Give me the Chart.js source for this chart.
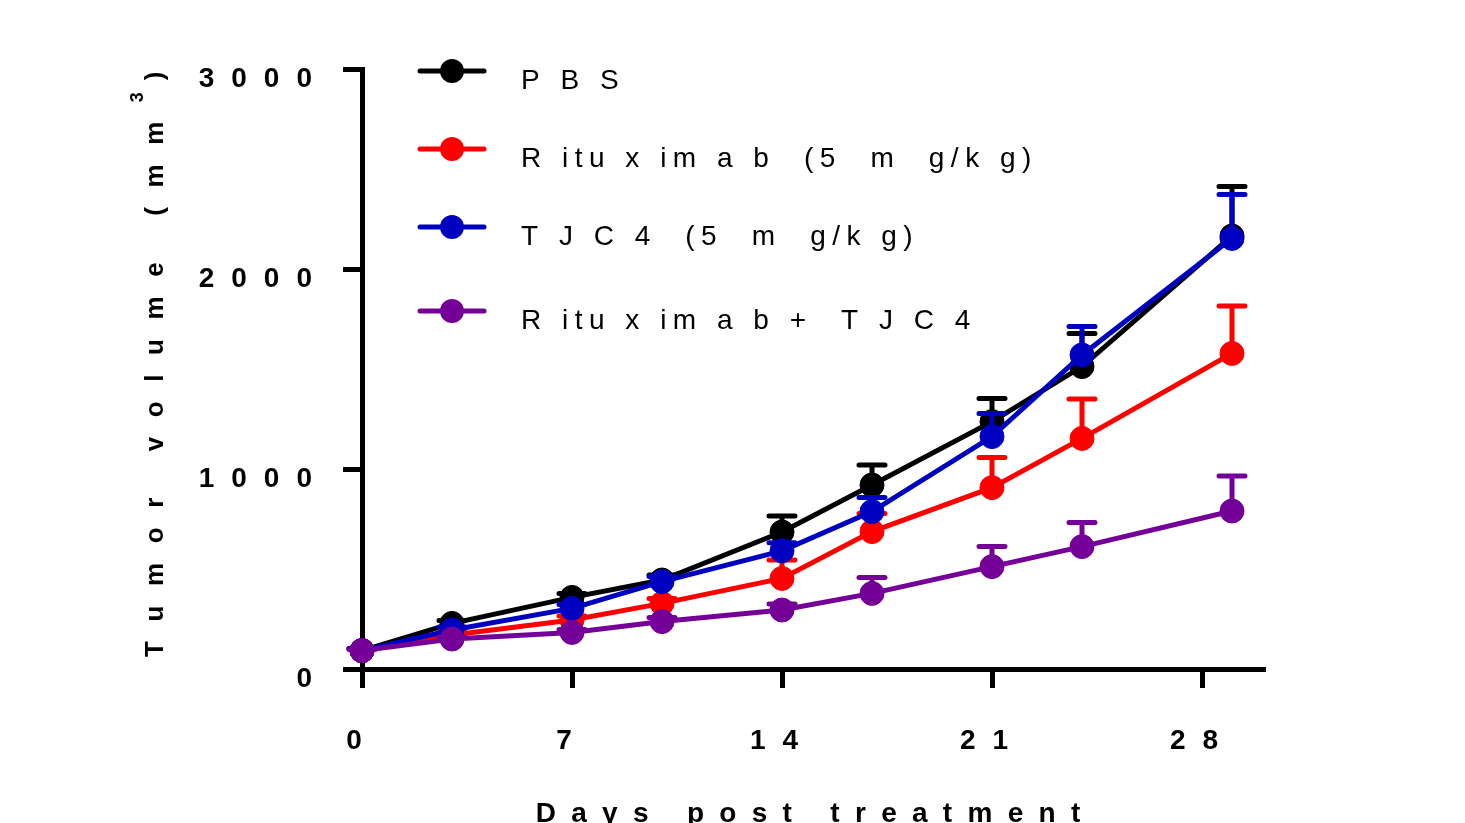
<!DOCTYPE html>
<html>
<head>
<meta charset="utf-8">
<script src="https://cdn.jsdelivr.net/npm/chart.js@4"></script>
<style>
  html, body { margin: 0; padding: 0; background: #fff; }
  canvas { display: block; }
</style>
</head>
<body>
<canvas id="tumor-chart" width="1465" height="823"></canvas>
<script>
// data
const days = [0, 3, 7, 10, 14, 17, 21, 24, 29];
const xTicks = [0, 7, 14, 21, 28];
const yTicks = [0, 1000, 2000, 3000];

const pbsMean = [92, 228, 358, 445, 685, 920, 1237, 1512, 2165];
const pbsErr = [10, 15, 20, 25, 80, 100, 116, 166, 247];
const rituxMean = [92, 170, 245, 328, 453, 687, 907, 1153, 1578];
const rituxErr = [10, 15, 20, 25, 92, 91, 151, 197, 237];
const tjcMean = [92, 195, 303, 437, 591, 787, 1162, 1570, 2153];
const tjcErr = [10, 15, 20, 25, 40, 71, 116, 142, 220];
const comboMean = [92, 150, 183, 237, 295, 378, 512, 612, 790];
const comboErr = [5, 10, 15, 20, 30, 79, 100, 120, 175];

const labels = ['P B S', 'R itu x im a b  (5  m  g/k g)', 'T J C 4  (5  m  g/k g)', 'R itu x im a b +  T J C 4'];
const colors = ['#000000', '#ff0000', '#0000c0', '#740098'];

const FONT = "'Liberation Sans', Arial, sans-serif";

function toPoints(means) {
    return days.map((d, i) => ({ x: d, y: means[i] }));
}

// draws text char by char with extra gap, returns end x
function spaced(ctx, text, x, y, gap, align) {
    const chars = [...text];
    const widths = chars.map(c => ctx.measureText(c).width);
    const total = widths.reduce((a, b) => a + b, 0) + gap * (chars.length - 1);
    let cx = x;
    if (align === 'right') cx = x - total;
    if (align === 'center') cx = x - total / 2;
    ctx.textAlign = 'left';
    chars.forEach((c, i) => {
        ctx.fillText(c, cx, y);
        cx += widths[i] + gap;
    });
    return cx;
}

// upward-only error bars, drawn under each dataset's own line
const errorBars = {
    id: 'errorBars',
    beforeDatasetDraw(chart, args) {
        const ds = chart.data.datasets[args.index];
        const xs = chart.scales.x, ys = chart.scales.y;
        const ctx = chart.ctx;
        ctx.save();
        ctx.strokeStyle = ds.borderColor;
        ctx.lineWidth = 5;
        ctx.lineCap = 'round';
        ds.data.forEach((p, i) => {
            const px = xs.getPixelForValue(p.x);
            const py = ys.getPixelForValue(p.y);
            const top = ys.getPixelForValue(p.y + ds.errors[i]);
            ctx.beginPath();
            ctx.moveTo(px, py);
            ctx.lineTo(px, top);
            ctx.moveTo(px - 13, top);
            ctx.lineTo(px + 13, top);
            ctx.stroke();
        });
        ctx.restore();
    }
};

// tick labels, axis titles and legend
const decorations = {
    id: 'decorations',
    afterDraw(chart) {
        const ctx = chart.ctx;
        const xs = chart.scales.x, ys = chart.scales.y;
        ctx.save();
        ctx.fillStyle = '#000';
        ctx.textBaseline = 'middle';

        ctx.font = 'bold 28px ' + FONT;
        yTicks.forEach(v => {
            spaced(ctx, String(v), 312, ys.getPixelForValue(v) + 10, 17, 'right');
        });
        xTicks.forEach(v => {
            spaced(ctx, String(v), xs.getPixelForValue(v) - 8, 741, 17, 'center');
        });

        // x title
        ctx.textBaseline = 'alphabetic';
        spaced(ctx, 'Days post treatment', 808, 822, 15.3, 'center');

        // y title, rotated
        ctx.save();
        ctx.translate(163, 657);
        ctx.rotate(-Math.PI / 2);
        ctx.font = 'bold 26px ' + FONT;
        let end = spaced(ctx, 'Tumor volume (mm', 0, 0, 19.6, 'left');
        ctx.font = 'bold 18px ' + FONT;
        end = spaced(ctx, '3', end, -20, 0, 'left');
        ctx.font = 'bold 26px ' + FONT;
        spaced(ctx, ')', end + 12, 0, 0, 'left');
        ctx.restore();

        // legend
        const rows = [71, 149, 227, 311];
        ctx.font = '28px ' + FONT;
        ctx.textBaseline = 'middle';
        chart.data.datasets.forEach((ds, i) => {
            const y = rows[i];
            ctx.strokeStyle = ds.borderColor;
            ctx.fillStyle = ds.borderColor;
            ctx.lineWidth = 5;
            ctx.lineCap = 'round';
            ctx.beginPath();
            ctx.moveTo(420, y);
            ctx.lineTo(484, y);
            ctx.stroke();
            ctx.beginPath();
            ctx.arc(452, y, 12, 0, Math.PI * 2);
            ctx.fill();
            ctx.fillStyle = '#000';
            spaced(ctx, ds.label, 521, y + 10, 6.5, 'left');
        });
        ctx.restore();
    }
};

const means = [pbsMean, rituxMean, tjcMean, comboMean];
const errs = [pbsErr, rituxErr, tjcErr, comboErr];

new Chart(document.getElementById('tumor-chart').getContext('2d'), {
    type: 'line',
    data: {
        datasets: labels.map((label, i) => ({
            label: label,
            data: toPoints(means[i]),
            errors: errs[i],
            borderColor: colors[i],
            backgroundColor: colors[i],
            pointBackgroundColor: colors[i],
            pointBorderColor: colors[i],
            pointBorderWidth: 1,
            pointRadius: 12,
            borderWidth: 5,
            tension: 0,
            clip: false,
            order: 3 - i
        }))
    },
    options: {
        responsive: false,
        animation: false,
        events: [],
        layout: { padding: { left: 343, top: 69, right: 200, bottom: 135 } },
        plugins: { legend: { display: false }, tooltip: { enabled: false } },
        scales: {
            x: {
                type: 'linear',
                min: 0,
                max: 30.1,
                afterBuildTicks: scale => { scale.ticks = xTicks.map(v => ({ value: v })); },
                ticks: { display: false },
                grid: { drawOnChartArea: false, drawTicks: true, tickLength: 19, tickWidth: 5, color: '#000' },
                border: { display: true, color: '#000', width: 5 }
            },
            y: {
                type: 'linear',
                min: 0,
                max: 3000,
                afterBuildTicks: scale => { scale.ticks = yTicks.map(v => ({ value: v })); },
                ticks: { display: false },
                grid: { drawOnChartArea: false, drawTicks: true, tickLength: 19, tickWidth: 5, color: '#000' },
                border: { display: true, color: '#000', width: 5 }
            }
        }
    },
    plugins: [errorBars, decorations]
});
</script>
</body>
</html>
